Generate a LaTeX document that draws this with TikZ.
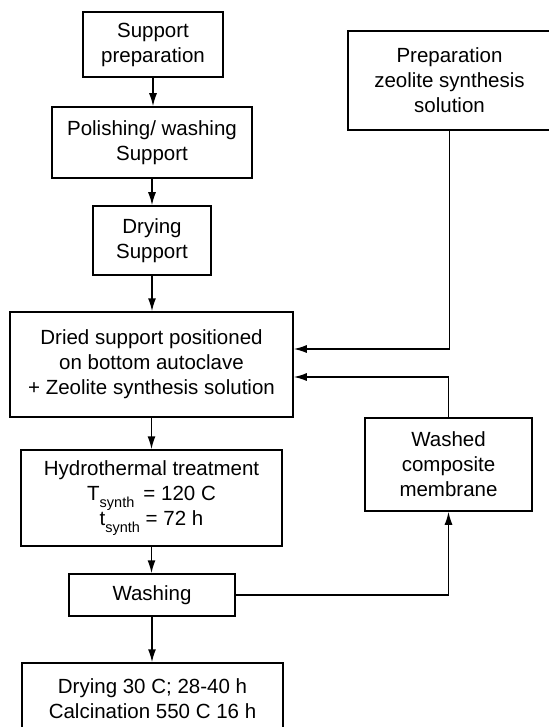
\documentclass[tikz,border=0pt]{standalone}
\usepackage{fontspec}
\setmainfont{Liberation Sans}
\usetikzlibrary{arrows.meta}
\newcommand{\synth}{\raisebox{-0.6ex}{\fontsize{14.5}{14.5}\selectfont synth}}

\begin{document}
\begin{tikzpicture}[x=1pt, y=-1pt]
    \tikzstyle{stage} = [draw, line width=1.5pt, rectangle, inner sep=0pt, align=center, font=\fontsize{20.5}{25}\selectfont]
    \tikzstyle{flow} = [line width=1.5pt, >={Latex[length=13pt, width=8pt]}]
    \useasboundingbox (0, 0) rectangle (548, 727);

    % main column
    \node[stage, minimum width=140pt, minimum height=65pt] (sprep) at (153, 44.5) {Support\\preparation};
    \node[stage, minimum width=200pt, minimum height=71pt] (polish) at (152, 142.5) {Polishing/ washing\\Support};
    \node[stage, minimum width=118pt, minimum height=69pt] (dry) at (152, 240.5) {Drying\\Support};
    \node[stage, minimum width=283pt, minimum height=105pt] (dried) at (151.5, 364.5) {Dried support positioned\\on bottom autoclave\\+ Zeolite synthesis solution};
    \node[stage, minimum width=261pt, minimum height=96pt] (hydro) at (151.5, 498) {Hydrothermal treatment\\T\synth\ \,= 120 C\\t\synth\ = 72 h};
    \node[stage, minimum width=166pt, minimum height=42pt] (wash) at (152, 595) {Washing};
    \node[stage, minimum width=261pt, minimum height=72pt] (final) at (152.5, 699) {Drying 30 C; 28-40 h\\Calcination 550 C 16 h};

    % side column
    \node[stage, minimum width=203pt, minimum height=99pt] (zeo) at (449.5, 80.5) {Preparation\\zeolite synthesis\\solution};
    \node[stage, minimum width=167pt, minimum height=93pt] (washed) at (448.5, 464.5) {Washed\\composite\\membrane};

    \draw[flow, ->] (sprep.south) -- (sprep.south |- polish.north);
    \draw[flow, ->] (polish.south) -- (polish.south |- dry.north);
    \draw[flow, ->] (dry.south) -- (dry.south |- dried.north);
    \draw[flow, ->] (dried.south) -- (dried.south |- hydro.north);
    \draw[flow, ->] (hydro.south) -- (hydro.south |- wash.north);
    \draw[flow, ->] (wash.south) -- (wash.south |- final.north);

    \draw[flow, ->] (zeo.south) |- ([yshift=15.5pt]dried.east);
    \draw[flow, ->] (washed.north) |- ([yshift=-12.5pt]dried.east);
    \draw[flow, ->] (wash.east) -| (washed.south);
\end{tikzpicture}
\end{document}
